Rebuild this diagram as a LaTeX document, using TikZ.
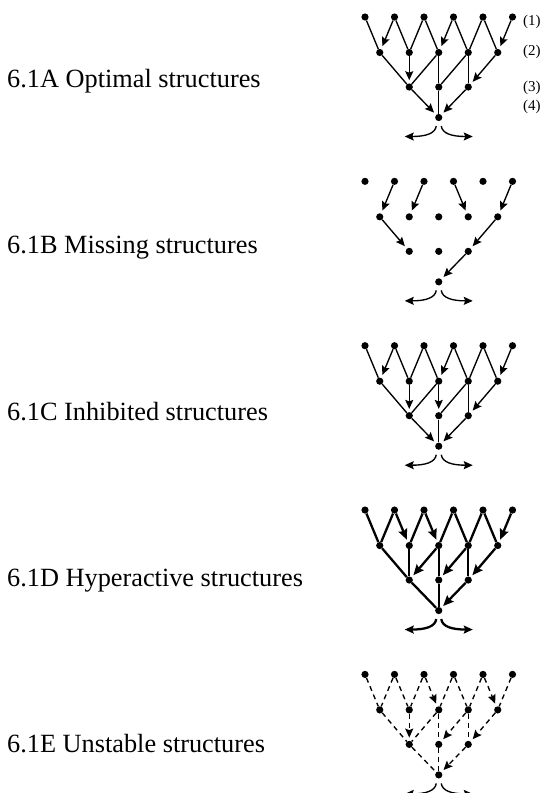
\documentclass[tikz,border=0pt]{standalone}
\usepackage{fontspec}
\setmainfont{Liberation Serif}
\usetikzlibrary{arrows.meta}
\tikzset{
  dot/.style={circle,fill=black,inner sep=0pt,minimum size=7.2pt},
  tip/.style={-{Stealth[length=9pt,width=8pt,inset=1.5pt]}},
  ln/.style={line width=1.35pt},
  ar/.style={line width=1.35pt,tip,shorten >=3pt},
  lnD/.style={line width=2.3pt},
  arD/.style={line width=2.3pt,-{Stealth[length=10.5pt,width=9pt,inset=1.5pt]},shorten >=2.5pt},
  lnE/.style={line width=1.35pt,dash pattern=on 5pt off 4pt},
  arE/.style={line width=1.35pt,dash pattern=on 5pt off 4pt,tip,shorten >=3pt},
  lbl/.style={anchor=base west,inner sep=0pt,font=\fontsize{26.3}{30}\selectfont},
  num/.style={anchor=west,inner sep=0pt,font=\fontsize{15}{18}\selectfont},
}
\newcommand{\mydiagram}[3]{% #1 prefix, #2 y offset, #3 line width
  \foreach \k in {0,...,5} \node[dot] (#1a\k) at ({365+29.5*\k},{#2+17}) {};
  \foreach \k in {0,...,4} \node[dot] (#1b\k) at ({379.75+29.5*\k},{#2+52.5}) {};
  \foreach \k in {0,...,2} \node[dot] (#1c\k) at ({409.25+29.5*\k},{#2+87}) {};
  \node[dot] (#1d) at (438.75,{#2+117.5}) {};
  \coordinate (#1Ls) at ([shift={(-2.5,8.5)}]#1d.center);
  \coordinate (#1Le) at ([shift={(-34,19)}]#1d.center);
  \coordinate (#1Rs) at ([shift={(2.5,8.5)}]#1d.center);
  \coordinate (#1Re) at ([shift={(34,19)}]#1d.center);
  \draw[line width=#3,tip] (#1Ls) .. controls ([shift={(-3.5,16)}]#1d.center) and ([shift={(-13,19)}]#1d.center) .. (#1Le);
  \draw[line width=#3,tip] (#1Rs) .. controls ([shift={(3.5,16)}]#1d.center) and ([shift={(13,19)}]#1d.center) .. (#1Re);
}
\begin{document}
\begin{tikzpicture}[x=1pt,y=-1pt]
\useasboundingbox (0,0) rectangle (553,793);
% ---------- A ----------
\mydiagram{A}{0}{1.35pt}
\foreach \u/\v in {a0/b0,a1/b1,a2/b1,a2/b2,a3/b3,a4/b3,a4/b4,b0/c0,b2/c0,b2/c1,b3/c1,b3/c2,c1/d}
  \draw[ln] (A\u) -- (A\v);
\foreach \u/\v in {a1/b0,a3/b2,a5/b4,b1/c0,b4/c2,c0/d,c2/d}
  \draw[ar] (A\u) -- (A\v);
\node[num] (n1) at (523,22) {(1)};
\node[num] (n2) at (523,52) {(2)};
\node[num] (n3) at (523,88) {(3)};
\node[num] (n4) at (523,107) {(4)};
\node[lbl] (tA) at (7,87) {6.1A Optimal structures};
% ---------- B ----------
\mydiagram{B}{164.35}{1.35pt}
\foreach \u/\v in {a1/b0,a2/b1,a3/b3,a5/b4,b0/c0,b4/c2,c2/d}
  \draw[ar] (B\u) -- (B\v);
\node[lbl] (tB) at (7,253) {6.1B Missing structures};
% ---------- C ----------
\mydiagram{C}{328.7}{1.35pt}
\foreach \u/\v in {a0/b0,a1/b1,a2/b1,a2/b2,a3/b3,a4/b3,a4/b4,b0/c0,b2/c0,b3/c1,b3/c2,c1/d}
  \draw[ln] (C\u) -- (C\v);
\foreach \u/\v in {a1/b0,a3/b2,a5/b4,b1/c0,b2/c1,b4/c2,c0/d,c2/d}
  \draw[ar] (C\u) -- (C\v);
\node[lbl] (tC) at (7,420) {6.1C Inhibited structures};
% ---------- D ----------
\mydiagram{D}{493.05}{2.3pt}
\foreach \u/\v in {a0/b0,a1/b0,a2/b1,a3/b2,a3/b3,a4/b3,a4/b4,b0/c0,b1/c0,b2/c1,b3/c2,c0/d,c1/d}
  \draw[lnD] (D\u) -- (D\v);
\foreach \u/\v in {a1/b1,a2/b2,a5/b4,b2/c0,b3/c1,b4/c2,c2/d}
  \draw[arD] (D\u) -- (D\v);
\node[lbl] (tD) at (7,586) {6.1D Hyperactive structures};
% ---------- E ----------
\mydiagram{E}{657.4}{1.35pt}
\foreach \u/\v in {a0/b0,a1/b0,a1/b1,a2/b1,a3/b2,a3/b3,a4/b3,a5/b4,b0/c0,b2/c0,b2/c1,b3/c2,c0/d,c1/d}
  \draw[lnE] (E\u) -- (E\v);
\foreach \u/\v in {a2/b2,a4/b4,b1/c0,b3/c1,b4/c2,c2/d}
  \draw[arE] (E\u) -- (E\v);
\node[lbl] (tE) at (7,752) {6.1E Unstable structures};
\end{tikzpicture}
\end{document}
